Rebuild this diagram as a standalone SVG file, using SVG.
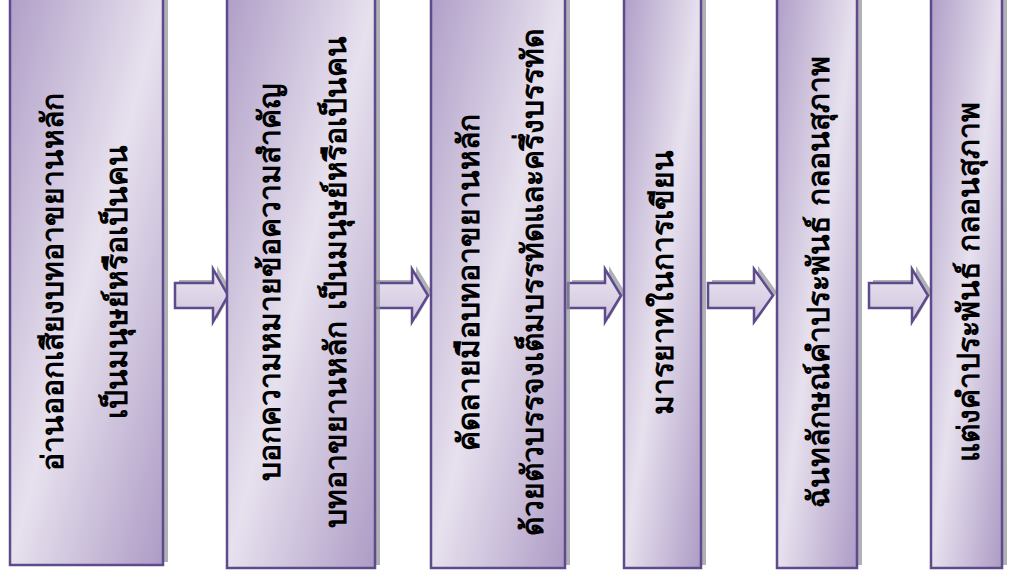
<svg xmlns="http://www.w3.org/2000/svg" width="1015" height="577" viewBox="0 0 1015 577">
<defs>
<linearGradient id="boxg" x1="0" y1="0" x2="1" y2="1">
<stop offset="0" stop-color="#b09fc8"/>
<stop offset="0.5" stop-color="#e7e1ee"/>
<stop offset="1" stop-color="#ad9bc5"/>
</linearGradient>
<linearGradient id="arrg" x1="0" y1="0" x2="0" y2="1">
<stop offset="0" stop-color="#ece7f2"/>
<stop offset="1" stop-color="#cdc2dc"/>
</linearGradient>
<style>
.box{fill:url(#boxg);stroke:#5e4b8b;stroke-width:2.5}
.sh{fill:#8f8f99;opacity:0.7}
.arr{fill:url(#arrg);stroke:#5e4b8b;stroke-width:2.5;stroke-linejoin:miter}
.t{font-family:"DejaVu Sans","Noto Sans",sans-serif;font-weight:bold;font-size:30px;fill:#000;text-anchor:middle}
</style>
</defs>
<g id="connectors">
<path class="sh" d="M179,280 H217 V266 L232,292 L217,319 V305 H179 Z"/>
<path class="arr" d="M175,283 H213 V269 L228,295.5 L213,322 V308 H175 Z"/>
<path class="sh" d="M373,280 H416 V266 L432,292 L416,319 V305 H373 Z"/>
<path class="arr" d="M369,283 H412 V269 L428,295.5 L412,322 V308 H369 Z"/>
<path class="sh" d="M572,280 H609 V266 L625,292 L609,319 V305 H572 Z"/>
<path class="arr" d="M568,283 H605 V269 L621,295.5 L605,322 V308 H568 Z"/>
<path class="sh" d="M712,280 H758 V266 L777,292 L758,319 V305 H712 Z"/>
<path class="arr" d="M708,283 H754 V269 L773,295.5 L754,322 V308 H708 Z"/>
<path class="sh" d="M873,280 H916 V266 L932,292 L916,319 V305 H873 Z"/>
<path class="arr" d="M869,283 H912 V269 L928,295.5 L912,322 V308 H869 Z"/>
</g>
<g id="node1">
<rect class="sh" x="15" y="-5" width="153" height="567"/>
<rect class="box" x="10" y="-2" width="153" height="567"/>
<text class="t" transform="translate(63,282) rotate(-90)">อ่านออกเสียงบทอาขยานหลัก</text>
<text class="t" transform="translate(127,282) rotate(-90)">เป็นมนุษย์หรือเป็นคน</text>
</g>
<g id="node2">
<rect class="sh" x="232" y="-5" width="148" height="570"/>
<rect class="box" x="227" y="-2" width="148" height="570"/>
<text class="t" transform="translate(280,282) rotate(-90)">บอกความหมายข้อความสำคัญ</text>
<text class="t" transform="translate(346,282) rotate(-90)">บทอาขยานหลัก เป็นมนุษย์หรือเป็นคน</text>
</g>
<g id="node3">
<rect class="sh" x="436" y="-5" width="134" height="570"/>
<rect class="box" x="431" y="-2" width="134" height="570"/>
<text class="t" transform="translate(479,282) rotate(-90)">คัดลายมือบทอาขยานหลัก</text>
<text class="t" transform="translate(543,282) rotate(-90)">ด้วยตัวบรรจงเต็มบรรทัดและครึ่งบรรทัด</text>
</g>
<g id="node4">
<rect class="sh" x="629" y="-5" width="77" height="570"/>
<rect class="box" x="624" y="-2" width="77" height="570"/>
<text class="t" transform="translate(673,282) rotate(-90)">มารยาทในการเขียน</text>
</g>
<g id="node5">
<rect class="sh" x="782" y="-5" width="80" height="570"/>
<rect class="box" x="777" y="-2" width="80" height="570"/>
<text class="t" transform="translate(829,282) rotate(-90)">ฉันทลักษณ์คำประพันธ์ กลอนสุภาพ</text>
</g>
<g id="node6">
<rect class="sh" x="936" y="-5" width="71" height="570"/>
<rect class="box" x="931" y="-2" width="71" height="570"/>
<text class="t" transform="translate(979,282) rotate(-90)">แต่งคำประพันธ์ กลอนสุภาพ</text>
</g>
</svg>
